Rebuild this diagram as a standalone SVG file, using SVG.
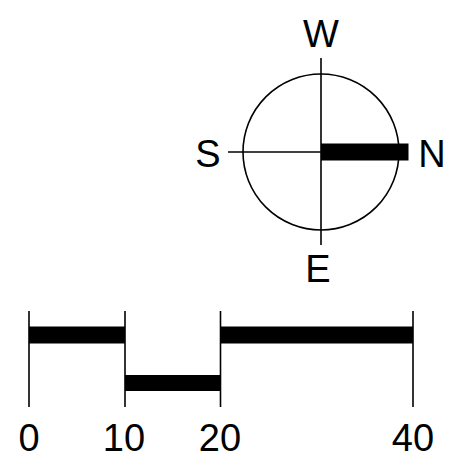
<svg xmlns="http://www.w3.org/2000/svg" width="459" height="466" viewBox="0 0 459 466">
<style>
.thin{stroke:#000;stroke-width:1.6;fill:none}
.bar{fill:#000}
text{font-family:"Liberation Sans",Arial,sans-serif;font-size:38px;fill:#000;text-anchor:middle}
</style>
<rect width="459" height="466" fill="#fff"/>
<g id="compass">
<circle class="thin" cx="321" cy="152" r="78"/>
<line class="thin" x1="321" y1="58" x2="321" y2="245"/>
<line class="thin" x1="228" y1="152" x2="321" y2="152"/>
<rect class="bar" x="321" y="143.5" width="87.5" height="17"/>
<text x="321" y="47">W</text>
<text x="208" y="167">S</text>
<text x="432" y="167">N</text>
<text x="318" y="282">E</text>
</g>
<g id="scale">
<line class="thin" x1="29" y1="311" x2="29" y2="407"/>
<line class="thin" x1="125" y1="311" x2="125" y2="407"/>
<line class="thin" x1="220.5" y1="311" x2="220.5" y2="407"/>
<line class="thin" x1="413" y1="311" x2="413" y2="407"/>
<rect class="bar" x="29" y="326.5" width="96" height="17"/>
<rect class="bar" x="125" y="375" width="95.5" height="16"/>
<rect class="bar" x="220.5" y="326.5" width="192.5" height="17"/>
<text x="29" y="451">0</text>
<text x="124" y="451">10</text>
<text x="220" y="451">20</text>
<text x="413" y="451">40</text>
</g>
</svg>
